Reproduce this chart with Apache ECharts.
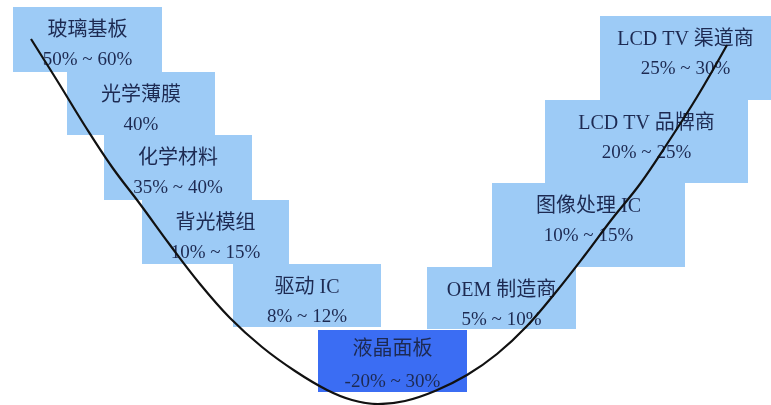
<!DOCTYPE html>
<html>
<head>
<meta charset="utf-8">
<script src="https://cdn.jsdelivr.net/npm/echarts@6/dist/echarts.min.js"></script>
<style>
html,body{margin:0;padding:0;background:#fff;}
#c{width:771px;height:405px;}
</style>
</head>
<body>
<div id="c"></div>
<script>
// Stage names and profit-margin labels
var stageNames = ['玻璃基板','光学薄膜','化学材料','背光模组','驱动 IC','液晶面板','OEM 制造商','图像处理 IC','LCD TV 品牌商','LCD TV 渠道商'];
var marginLabels = ['50% ~ 60%','40%','35% ~ 40%','10% ~ 15%','8% ~ 12%','-20% ~ 30%','5% ~ 10%','10% ~ 15%','20% ~ 25%','25% ~ 30%'];
// Box extents in chart (axis) units
var boxX0 = [13, 67, 104, 142, 233, 318, 427, 492, 545, 600];
var boxX1 = [162, 215, 252, 289, 381, 467, 576, 685, 748, 771];
var boxY0 = [7, 72, 135, 200, 264, 330, 267, 183, 100, 16];
var boxY1 = [72, 135, 200, 264, 327, 392, 329, 267, 183, 100];
var highlightIndex = 5;
// Smile curve points (axis units)
var curveX = [31, 58, 85, 112, 140, 170, 200, 230, 262, 295, 327, 352, 378, 405, 435, 467, 497, 527, 556, 585, 612, 640, 667, 697, 727];
var curveY = [39, 82, 126, 167, 204, 245, 284, 318, 347, 371, 390, 400, 404, 401, 391, 375, 354, 326, 292, 255, 219, 184, 144, 97, 45];

var boxData = stageNames.map(function (n, i) {
  return [boxX0[i], boxX1[i], boxY0[i], boxY1[i], i];
});
var curveData = curveX.map(function (x, i) { return [x, curveY[i]]; });

var chart = echarts.init(document.getElementById('c'));
chart.setOption({
  animation: false,
  grid: {left: 0, right: 0, top: 0, bottom: 0},
  xAxis: {type: 'value', min: 0, max: 771, show: false},
  yAxis: {type: 'value', min: 0, max: 405, inverse: true, show: false},
  series: [
    {
      type: 'custom',
      data: boxData,
      clip: true,
      renderItem: function (params, api) {
        var i = api.value(4);
        var p0 = api.coord([api.value(0), api.value(2)]);
        var p1 = api.coord([api.value(1), api.value(3)]);
        var cx = (p0[0] + p1[0]) / 2;
        var isHi = i === highlightIndex;
        var tOff = isHi ? 20 : 24;
        var vOff = isHi ? 52 : 53;
        return {
          type: 'group',
          children: [
            {
              type: 'rect',
              shape: {x: p0[0], y: p0[1], width: p1[0] - p0[0], height: p1[1] - p0[1]},
              style: {fill: isHi ? '#3b6df3' : '#9dcbf6'}
            },
            {
              type: 'text',
              style: {
                text: stageNames[i], x: cx, y: p0[1] + tOff,
                align: 'center', verticalAlign: 'middle',
                fontSize: 20, fontFamily: "'Liberation Serif','Noto Sans CJK SC'",
                fill: '#1d2a52'
              }
            },
            {
              type: 'text',
              style: {
                text: marginLabels[i], x: cx, y: p0[1] + vOff,
                align: 'center', verticalAlign: 'middle',
                fontSize: 19, fontFamily: "'Liberation Serif','Noto Sans CJK SC'",
                fill: '#1d2a52'
              }
            }
          ]
        };
      }
    },
    {
      type: 'line',
      data: curveData,
      smooth: 0.4,
      symbol: 'none',
      lineStyle: {color: '#111', width: 2.2},
      z: 5
    }
  ]
});
</script>
</body>
</html>
